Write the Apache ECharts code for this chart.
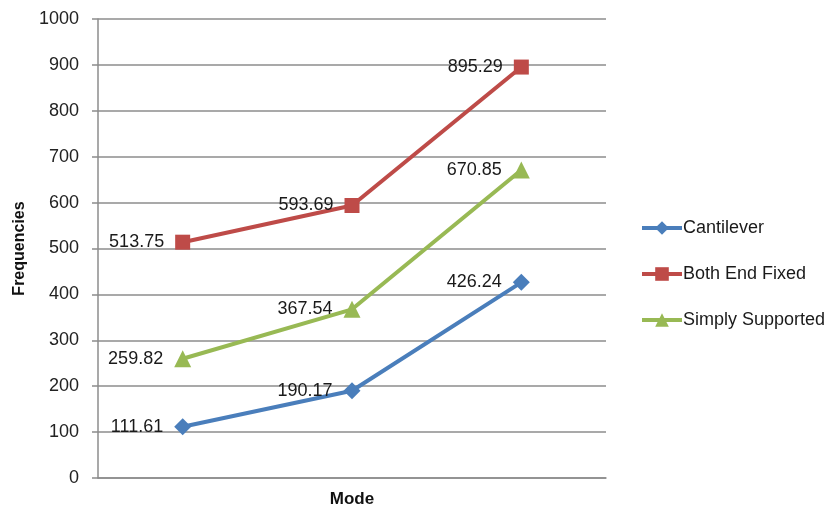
<!DOCTYPE html>
<html>
<head>
<meta charset="utf-8">
<script src="https://cdn.jsdelivr.net/npm/echarts@6/dist/echarts.min.js"></script>
<style>
  html, body { margin: 0; padding: 0; background: #fff; }
  #chart { width: 831px; height: 510px; }
</style>
</head>
<body>
<div id="chart"></div>
<script>
// Mode numbers (x axis categories, not labelled on the axis)
const modes = ['1', '2', '3'];

// Natural frequencies per support condition
const cantilever = [111.61, 190.17, 426.24];
const bothEndFixed = [513.75, 593.69, 895.29];
const simplySupported = [259.82, 367.54, 670.85];

const yTicks = { min: 0, max: 1000, interval: 100 };

const FONT = '"Liberation Sans", Arial, sans-serif';

function makeSeries(name, data, color, symbol, size) {
  return {
    name: name,
    type: 'line',
    data: data,
    symbol: symbol,
    symbolSize: size,
    lineStyle: { color: color, width: 4 },
    itemStyle: { color: color },
    label: {
      show: true,
      position: 'left',
      distance: 11,
      color: '#1a1a1a',
      fontFamily: FONT,
      fontSize: 18,
      formatter: p => p.value.toFixed(2)
    },
    emphasis: { disabled: true },
    animation: false
  };
}

const chart = echarts.init(document.getElementById('chart'));
chart.setOption({
  backgroundColor: '#ffffff',
  grid: { left: 98, right: 225, top: 19, bottom: 32, containLabel: false, outerBoundsMode: 'none' },
  legend: {
    orient: 'vertical',
    left: 635,
    top: 213,
    itemWidth: 40,
    itemHeight: 17,
    itemGap: 26,
    lineStyle: { width: 4 },
    textStyle: { fontFamily: FONT, fontSize: 18, color: '#1a1a1a', lineHeight: 20, padding: [0, 0, 0, -4] },
    data: ['Cantilever', 'Both End Fixed', 'Simply Supported']
  },
  xAxis: {
    type: 'category',
    data: modes,
    boundaryGap: true,
    name: 'Mode',
    nameLocation: 'middle',
    nameGap: 13,
    nameTextStyle: { fontFamily: FONT, fontSize: 17, fontWeight: 'bold', color: '#111' },
    axisLine: { lineStyle: { color: '#8c8c8c', width: 1.5 } },
    axisTick: { show: false },
    axisLabel: { show: false },
    splitLine: { show: false }
  },
  yAxis: {
    type: 'value',
    min: yTicks.min,
    max: yTicks.max,
    interval: yTicks.interval,
    name: 'Frequencies',
    nameLocation: 'middle',
    nameGap: 69,
    nameTextStyle: { fontFamily: FONT, fontSize: 16, fontWeight: 'bold', color: '#111' },
    axisLine: { show: true, lineStyle: { color: '#8c8c8c', width: 1.5 } },
    axisTick: { show: true, length: 6, lineStyle: { color: '#8c8c8c', width: 1.5 } },
    axisLabel: { margin: 19, fontFamily: FONT, fontSize: 18, color: '#222', formatter: v => String(v) },
    splitLine: { show: true, lineStyle: { color: '#8c8c8c', width: 1.5 } }
  },
  series: [
    makeSeries('Cantilever', cantilever, '#4a7ebb', 'diamond', 17),
    makeSeries('Both End Fixed', bothEndFixed, '#be4b48', 'rect', 15),
    makeSeries('Simply Supported', simplySupported, '#98b954', 'triangle', 17)
  ]
});
</script>
</body>
</html>
